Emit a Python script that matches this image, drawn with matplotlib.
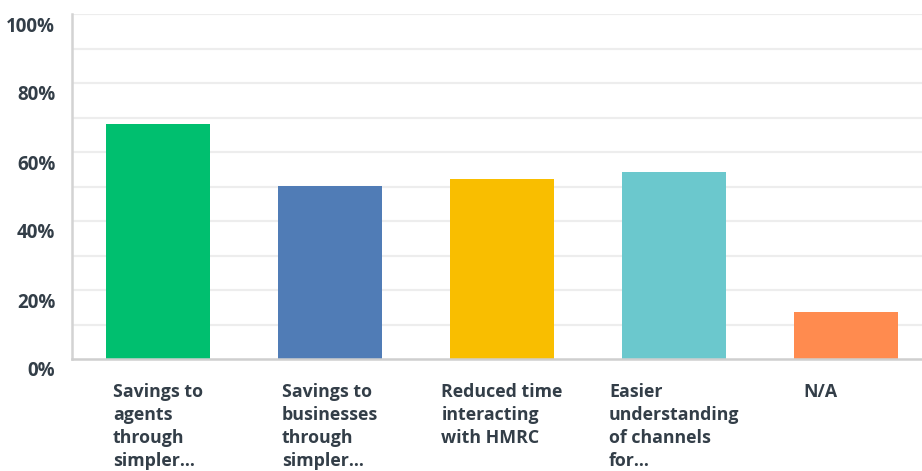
import matplotlib
matplotlib.use("Agg")
import matplotlib.pyplot as plt
import matplotlib.transforms as mtransforms

# answer options and share of respondents (%)
categories = [
    "Savings to\nagents\nthrough\nsimpler...",
    "Savings to\nbusinesses\nthrough\nsimpler...",
    "Reduced time\ninteracting\nwith HMRC",
    "Easier\nunderstanding\nof channels\nfor...",
    "N/A",
]
values = [68.1, 50.1, 52.2, 54.2, 13.6]
colors = ["#00bf6f", "#507cb6", "#f9be00", "#6bc8cd", "#ff8b4f"]
yticks = [0, 20, 40, 60, 80, 100]
ytick_labels = ["0%", "20%", "40%", "60%", "80%", "100%"]

text_col = "#333e48"
plt.rcParams["font.family"] = ["Open Sans", "DejaVu Sans"]

fig = plt.figure(figsize=(9.22, 4.71), dpi=100)
ax = fig.add_axes([72 / 922, 112 / 471, 850 / 922, 345 / 471])

bar_w = 0.605
x = list(range(len(values)))
ax.bar(x, values, width=bar_w, color=colors, zorder=3)

ax.set_xlim(-0.5, 4.44)
ax.set_ylim(0, 100)

# light horizontal grid every 10%
for g in range(10, 101, 10):
    ax.axhline(g, color="#ededed", lw=1.6, zorder=1)

ax.set_xticks([])
ax.set_yticks(yticks)
ax.set_yticklabels(ytick_labels, fontsize=13.5, fontweight="bold", color=text_col)
ax.tick_params(axis="y", length=0, pad=12)
shift = mtransforms.ScaledTranslation(0, -10 / 100, fig.dpi_scale_trans)
for lab in ax.get_yticklabels():
    lab.set_transform(lab.get_transform() + shift)

for side in ["top", "right"]:
    ax.spines[side].set_visible(False)
ax.spines["left"].set_color("#d3d3d3")
ax.spines["left"].set_linewidth(1.8)
ax.spines["bottom"].set_color("#cfcfcf")
ax.spines["bottom"].set_linewidth(1.8)
ax.spines["bottom"].set_zorder(4)

# category labels: a left-aligned block centred under each bar,
# short labels start at a minimum block edge
renderer = fig.canvas.get_renderer()
px = 1 / (ax.get_window_extent().width / (4.44 + 0.5))
min_block = 86 * px
for i, lab in enumerate(categories):
    t = ax.text(i, -6.9, lab, ha="left", va="top",
                fontsize=12.8, fontweight="bold", color=text_col,
                linespacing=1.36, clip_on=False)
    w = t.get_window_extent(renderer).width * px
    t.set_x(i - max(w, min_block) / 2)

fig.savefig("out.png", dpi=100)
